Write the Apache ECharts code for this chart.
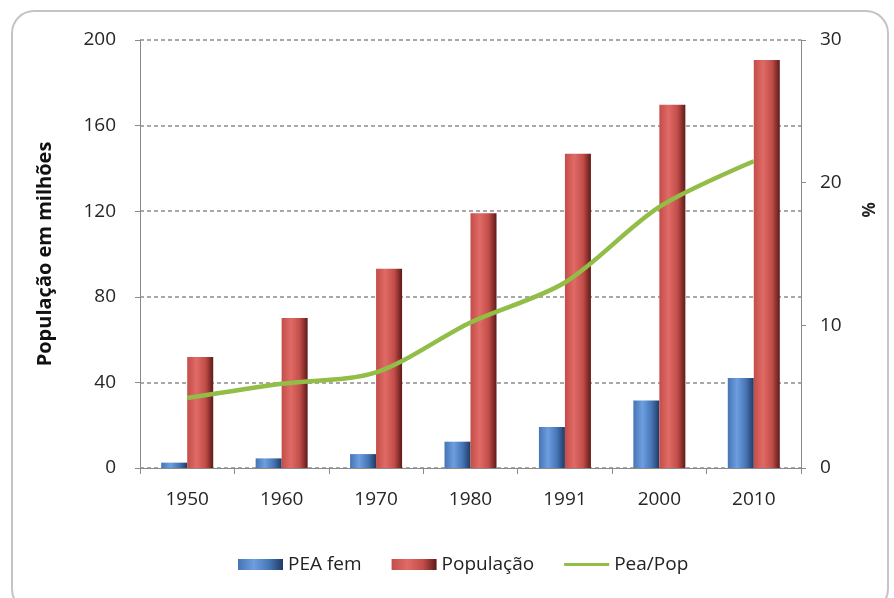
<!DOCTYPE html>
<html>
<head>
<meta charset="utf-8">
<script src="https://cdn.jsdelivr.net/npm/echarts@6/dist/echarts.min.js"></script>
<style>
  html, body { margin: 0; padding: 0; background: #fff; }
  #chart { width: 894px; height: 598px; }
</style>
</head>
<body>
<div id="chart"></div>
<script>
// Census years
const years = ['1950', '1960', '1970', '1980', '1991', '2000', '2010'];
// Female economically active population (millions)
const peaFem = [2.5, 4.5, 6.5, 12.3, 19.2, 31.5, 42.0];
// Total population (millions)
const populacao = [51.9, 70.1, 93.1, 119.0, 146.8, 169.8, 190.7];
// PEA fem / population (%)
const peaPop = [4.9, 5.9, 6.7, 10.2, 13.0, 18.3, 21.5];
// Axis ticks
const leftTicks = { min: 0, max: 200, interval: 40 };
const rightTicks = { min: 0, max: 30, interval: 10 };

const FONT = '"Open Sans", "Noto Sans", sans-serif';
const LABEL = '#262626';

function cylinder(light, mid, dark) {
  return new echarts.graphic.LinearGradient(0, 0, 1, 0, [
    { offset: 0, color: mid },
    { offset: 0.35, color: light },
    { offset: 0.7, color: mid },
    { offset: 1, color: dark }
  ]);
}

const chart = echarts.init(document.getElementById('chart'));
chart.setOption({
  backgroundColor: '#ffffff',
  animation: false,
  textStyle: { fontFamily: FONT },
  graphic: [{
    type: 'rect',
    shape: { x: 12, y: 11, width: 876, height: 600, r: 22 },
    style: { fill: 'none', stroke: '#c4c4c4', lineWidth: 2 },
    z: -10
  }, {
    type: 'text',
    x: 867, y: 210,
    rotation: -Math.PI / 2,
    style: {
      text: '%', fontFamily: FONT, fontSize: 17, fontWeight: 'bold',
      fill: '#222', align: 'center', verticalAlign: 'middle'
    }
  }],
  grid: { left: 140, right: 93, top: 40, bottom: 130 },
  legend: {
    top: 550,
    left: 233,
    itemWidth: 45,
    itemHeight: 11,
    itemGap: 30,
    textStyle: { fontFamily: FONT, fontSize: 19, color: '#222' },
    data: [
      { name: 'PEA fem', icon: 'rect' },
      { name: 'População', icon: 'rect' },
      { name: 'Pea/Pop', icon: 'path://M0,0 H45 V3 H0 Z' }
    ]
  },
  xAxis: {
    type: 'category',
    data: years,
    axisLine: { lineStyle: { color: '#8a8a8a', width: 1 } },
    axisTick: { show: true, length: 6, lineStyle: { color: '#8a8a8a' } },
    axisLabel: { color: LABEL, fontSize: 19, margin: 22, fontFamily: FONT }
  },
  yAxis: [{
    type: 'value',
    min: leftTicks.min, max: leftTicks.max, interval: leftTicks.interval,
    name: 'População em milhões',
    nameLocation: 'middle',
    nameGap: 85,
    nameRotate: 90,
    nameTextStyle: { fontFamily: FONT, fontSize: 20, fontWeight: 'bold', color: '#111' },
    axisLine: { show: true, lineStyle: { color: '#8a8a8a' } },
    axisTick: { show: true, length: 5, lineStyle: { color: '#8a8a8a' } },
    axisLabel: { color: LABEL, fontSize: 19, margin: 24, fontFamily: FONT },
    splitLine: { show: true, lineStyle: { color: '#8c8c8c', type: [4, 3], width: 1.5 } }
  }, {
    type: 'value',
    min: rightTicks.min, max: rightTicks.max, interval: rightTicks.interval,
    axisLine: { show: true, lineStyle: { color: '#8a8a8a' } },
    axisTick: { show: true, length: 5, lineStyle: { color: '#8a8a8a' } },
    axisLabel: { color: LABEL, fontSize: 19, margin: 19, fontFamily: FONT },
    splitLine: { show: false }
  }],
  series: [{
    name: 'PEA fem',
    type: 'bar',
    data: peaFem,
    barWidth: 26,
    barGap: '0%',
    color: '#4a7dbf',
    itemStyle: { color: cylinder('#6d9ee0', '#4675b4', '#1f3a66') }
  }, {
    name: 'População',
    type: 'bar',
    data: populacao,
    barWidth: 26,
    color: '#c0504d',
    itemStyle: { color: cylinder('#e06a66', '#c24d49', '#5e1a18') }
  }, {
    name: 'Pea/Pop',
    type: 'line',
    yAxisIndex: 1,
    data: peaPop,
    smooth: 0.3,
    symbol: 'none',
    color: '#92bd47',
    lineStyle: { color: '#92bd47', width: 4.5 },
    z: 5
  }]
});
</script>
</body>
</html>
